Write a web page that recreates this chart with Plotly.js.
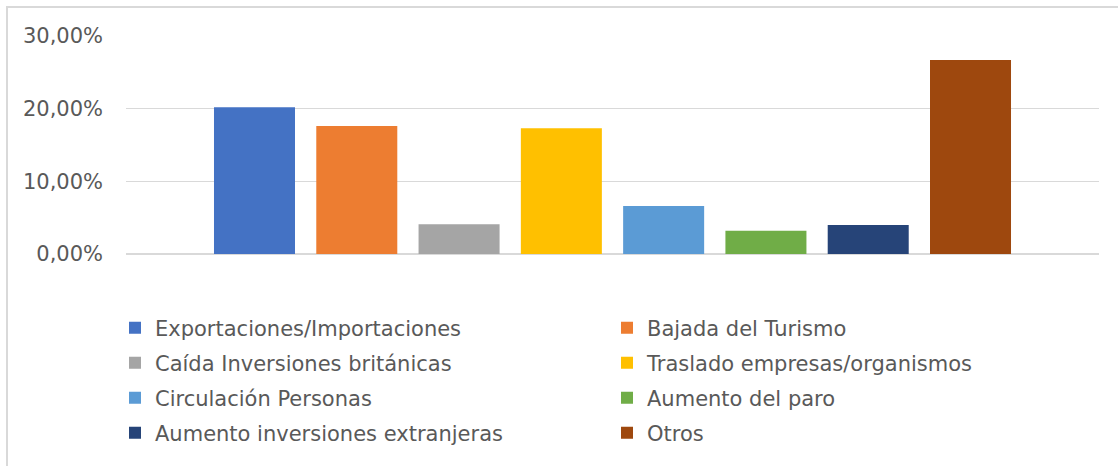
<!DOCTYPE html>
<html>
<head>
<meta charset="utf-8">
<script src="https://cdn.plot.ly/plotly-3.0.1.min.js"></script>
<style>
html, body { margin: 0; padding: 0; background: #ffffff; }
#chart { width: 1118px; height: 466px; }
#frame { position: absolute; left: 6px; top: 6px; width: 1200px; height: 600px;
  border-left: 2px solid #d9d9d9; border-top: 2px solid #d9d9d9; pointer-events: none; }
</style>
</head>
<body>
<div id="chart"></div>
<div id="frame"></div>
<script>
const category = ['Impacto'];
const seriesNames = [
  'Exportaciones/Importaciones',
  'Bajada del Turismo',
  'Caída Inversiones británicas',
  'Traslado empresas/organismos',
  'Circulación Personas',
  'Aumento del paro',
  'Aumento inversiones extranjeras',
  'Otros'
];
const seriesValues = [0.202, 0.176, 0.041, 0.173, 0.066, 0.032, 0.040, 0.267];
const seriesColors = ['#4472C4', '#ED7D31', '#A5A5A5', '#FFC000', '#5B9BD5', '#70AD47', '#264478', '#9E480E'];
const yTicks = [0, 0.1, 0.2, 0.3];

const W = 1118, H = 466;
const legendColX = [115, 607];
const legendRowY = [328, 363, 398, 433];
const legendIds = seriesNames.map((_, i) => i === 0 ? 'legend' : 'legend' + (i + 1));

const traces = seriesNames.map((name, i) => ({
  type: 'bar',
  name: name,
  x: category,
  y: [seriesValues[i]],
  marker: { color: seriesColors[i] },
  legend: legendIds[i],
  hoverinfo: 'name+y'
}));

const legendFont = { family: 'DejaVu Sans', size: 21, color: '#595959' };
const layout = {
  width: W, height: H,
  margin: { l: 126, r: 19, t: 36, b: 212 },
  paper_bgcolor: '#ffffff',
  plot_bgcolor: '#ffffff',
  separators: ',.',
  barmode: 'group',
  bargap: 0.159,
  bargroupgap: 0.208,
  showlegend: true,
  xaxis: {
    type: 'category',
    showticklabels: false,
    showgrid: false,
    showline: false,
    zeroline: false,
    ticks: ''
  },
  yaxis: {
    range: [0, 0.3],
    tickvals: yTicks,
    tickformat: '.2%',
    showgrid: true,
    gridcolor: '#d9d9d9',
    gridwidth: 1.5,
    zeroline: true,
    zerolinecolor: '#d9d9d9',
    zerolinewidth: 1.5,
    showline: false,
    ticks: '',
    ticklabelstandoff: 22,
    tickfont: { family: 'DejaVu Sans', size: 21, color: '#595959' }
  },
  font: { family: 'DejaVu Sans', color: '#595959' }
};
legendIds.forEach((id, i) => {
  layout[id] = {
    orientation: 'h',
    xref: 'container', yref: 'container',
    x: legendColX[i % 2] / W, xanchor: 'left',
    y: 1 - legendRowY[Math.floor(i / 2)] / H, yanchor: 'middle',
    font: legendFont,
    bgcolor: 'rgba(0,0,0,0)',
    borderwidth: 0
  };
});

Plotly.newPlot('chart', traces, layout, { displayModeBar: false, staticPlot: true });
</script>
</body>
</html>
